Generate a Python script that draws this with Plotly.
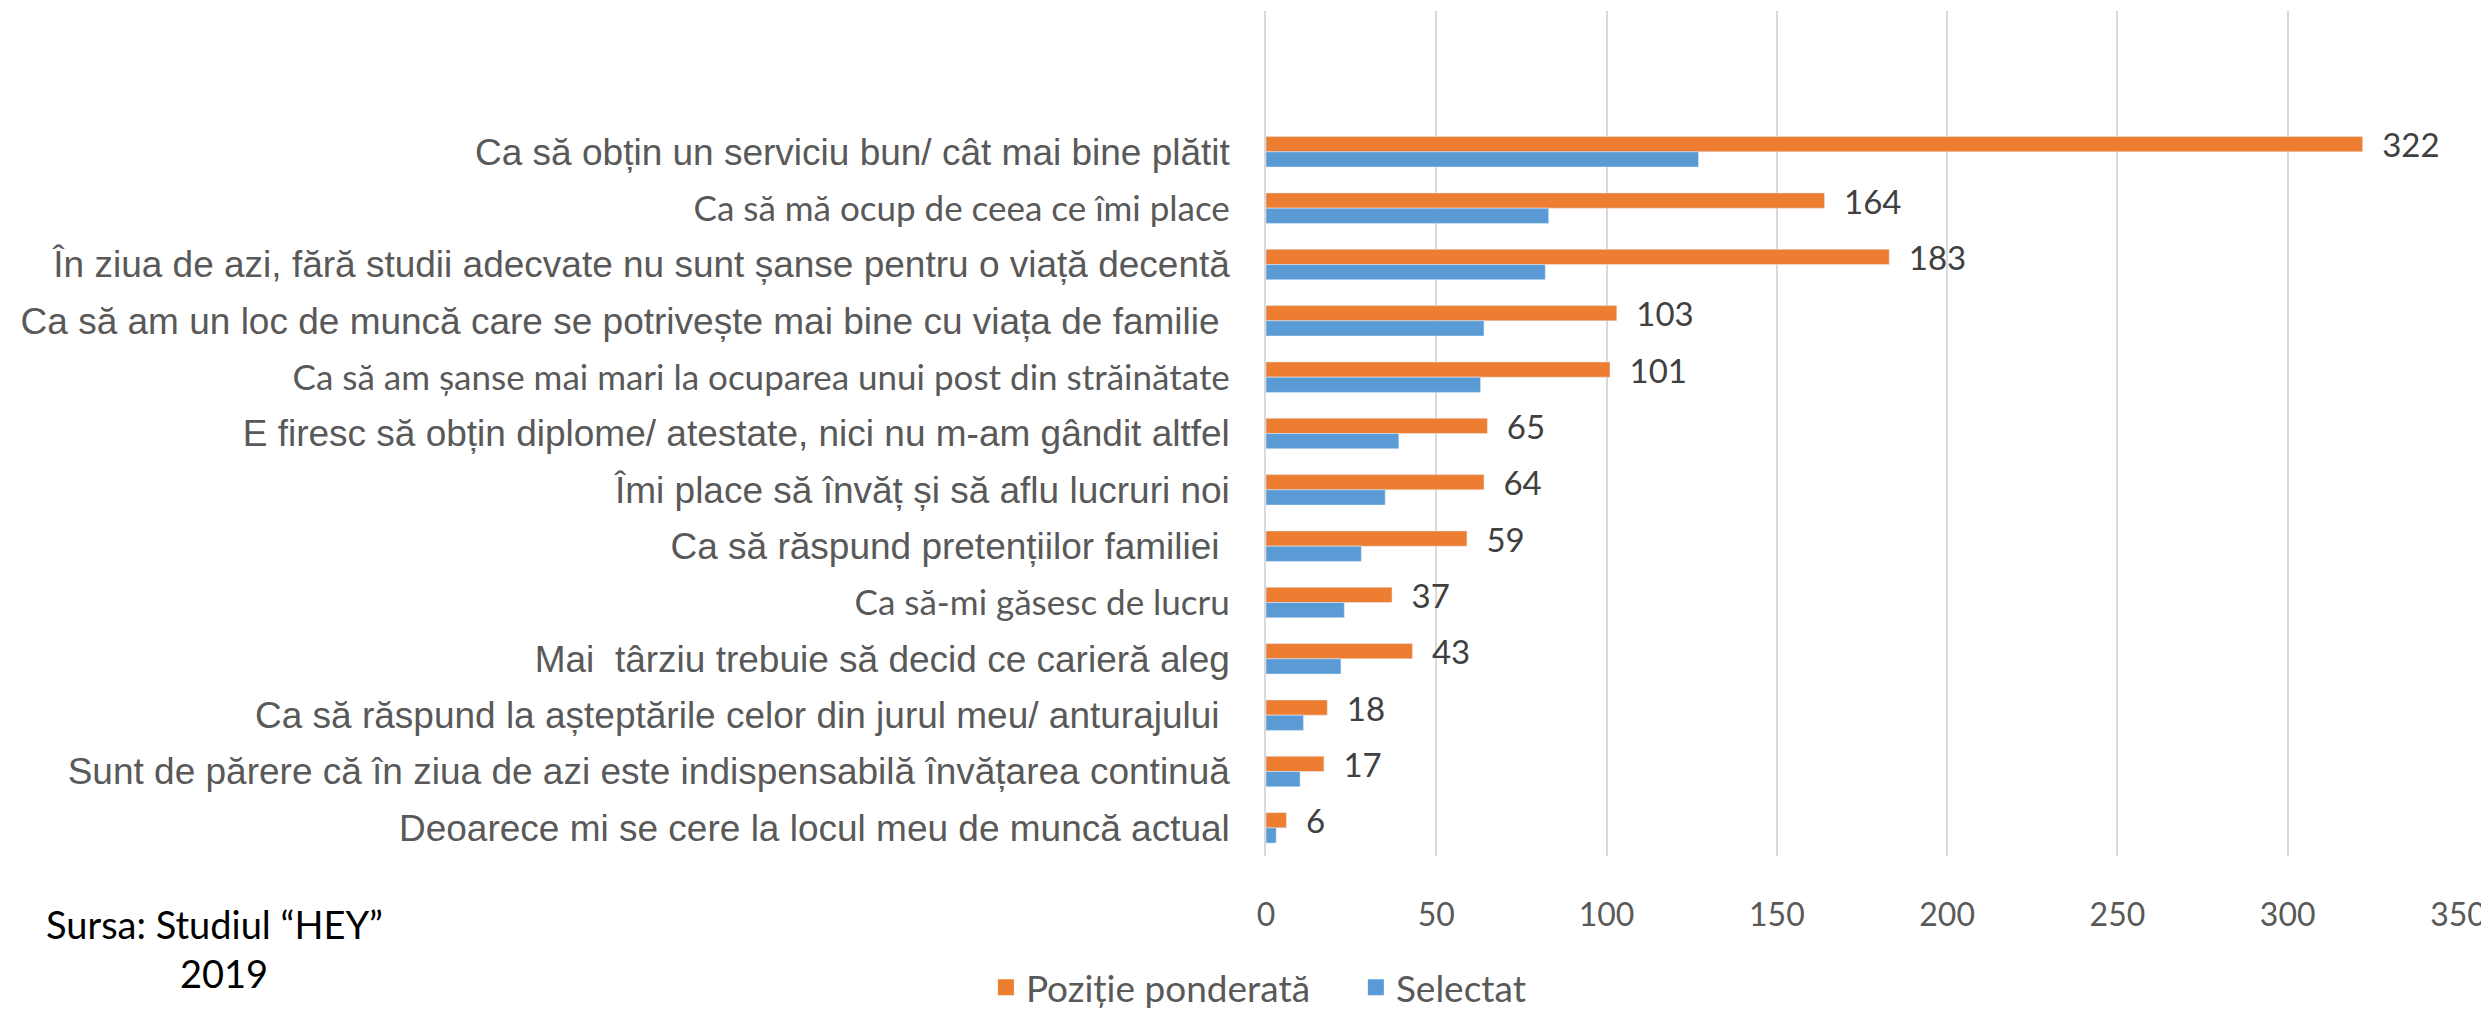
import plotly.graph_objects as go

categories = [
    "Ca să obțin un serviciu bun/ cât mai bine plătit",
    "Ca să mă ocup de ceea ce îmi place",
    "În ziua de azi, fără studii adecvate nu sunt șanse pentru o viață decentă",
    "Ca să am un loc de muncă care se potrivește mai bine cu viața de familie",
    "Ca să am șanse mai mari la ocuparea unui post din străinătate",
    "E firesc să obțin diplome/ atestate, nici nu m-am gândit altfel",
    "Îmi place să învăț și să aflu lucruri noi",
    "Ca să răspund pretențiilor familiei",
    "Ca să-mi găsesc de lucru",
    "Mai  târziu trebuie să decid ce carieră aleg",
    "Ca să răspund la așteptările celor din jurul meu/ anturajului",
    "Sunt de părere că în ziua de azi este indispensabilă învățarea continuă",
    "Deoarece mi se cere la locul meu de muncă actual",
]
pozitie_ponderata = [322, 164, 183, 103, 101, 65, 64, 59, 37, 43, 18, 17, 6]
selectat = [127, 83, 82, 64, 63, 39, 35, 28, 23, 22, 11, 10, 3]
x_ticks = [0, 50, 100, 150, 200, 250, 300, 350]
series_names = ["Poziție ponderată", "Selectat"]
series_colors = ["#ED7D31", "#5B9BD5"]

# labels drawn in a Calibri-like face in the original
calibri_like = {1, 4, 8}
trailing_space = {3, 7, 10}

ticktext = []
for i, c in enumerate(categories):
    t = c.replace("  ", "\u00a0\u00a0")
    if i in trailing_space:
        t = t + "\u00a0"
    if i in calibri_like:
        t = f'<span style="font-family:Lato;font-size:35px">{t}</span>'
    ticktext.append(t)

fig = go.Figure()
fig.add_trace(go.Bar(
    y=categories, x=pozitie_ponderata, orientation="h",
    name=series_names[0], marker=dict(color=series_colors[0]),
    text=pozitie_ponderata, texttemplate="\u2002%{x}", textposition="outside",
    textfont=dict(family="Lato", size=33, color="#404040"),
    constraintext="none", cliponaxis=False, showlegend=False,
))
fig.add_trace(go.Bar(
    y=categories, x=selectat, orientation="h",
    name=series_names[1], marker=dict(color=series_colors[1]),
    showlegend=False,
))
# legend entries with larger square keys
for nm, col in zip(series_names, series_colors):
    fig.add_trace(go.Scatter(
        x=[None], y=[None], mode="markers", name=nm,
        marker=dict(symbol="square", size=20, color=col),
        showlegend=True, hoverinfo="skip",
    ))

fig.update_layout(
    width=2481, height=1005,
    margin=dict(l=1258, r=31, t=3, b=157, autoexpand=False),
    paper_bgcolor="white", plot_bgcolor="white",
    barmode="group", bargap=0.46, bargroupgap=0,
    font=dict(family="Liberation Sans, Arial", color="#595959"),
    showlegend=True,
    legend=dict(
        orientation="h", x=-0.235, xanchor="left", y=-0.156, yanchor="middle",
        font=dict(family="Lato", size=37, color="#595959"),
        traceorder="normal", entrywidth=325, entrywidthmode="pixels",
    ),
    xaxis=dict(
        range=[0, 350], tickvals=x_ticks, showgrid=True, gridcolor="#D9D9D9",
        gridwidth=1.5, zeroline=False, showline=False,
        tickfont=dict(family="Lato", size=32, color="#595959"),
        ticklabelstandoff=37, ticklabeloverflow="allow",
    ),
    yaxis=dict(
        type="category", categoryorder="array", categoryarray=categories,
        tickvals=categories, ticktext=ticktext,
        range=[12.5, -2.5], showgrid=False, zeroline=False,
        showline=True, linecolor="#D9D9D9", linewidth=1.5,
        tickfont=dict(family="Liberation Sans, Arial", size=37, color="#595959"),
        ticklabelstandoff=27,
    ),
)

fig.add_annotation(
    text="Sursa: Studiul “HEY”", xref="paper", yref="paper",
    x=-0.882, y=-0.0805, xanchor="center", yanchor="middle", showarrow=False,
    font=dict(family="Lato", size=38, color="#000000"),
)
fig.add_annotation(
    text="2019", xref="paper", yref="paper",
    x=-0.8738, y=-0.1385, xanchor="center", yanchor="middle", showarrow=False,
    font=dict(family="Lato", size=38, color="#000000"),
)

fig.write_html("out.html")
